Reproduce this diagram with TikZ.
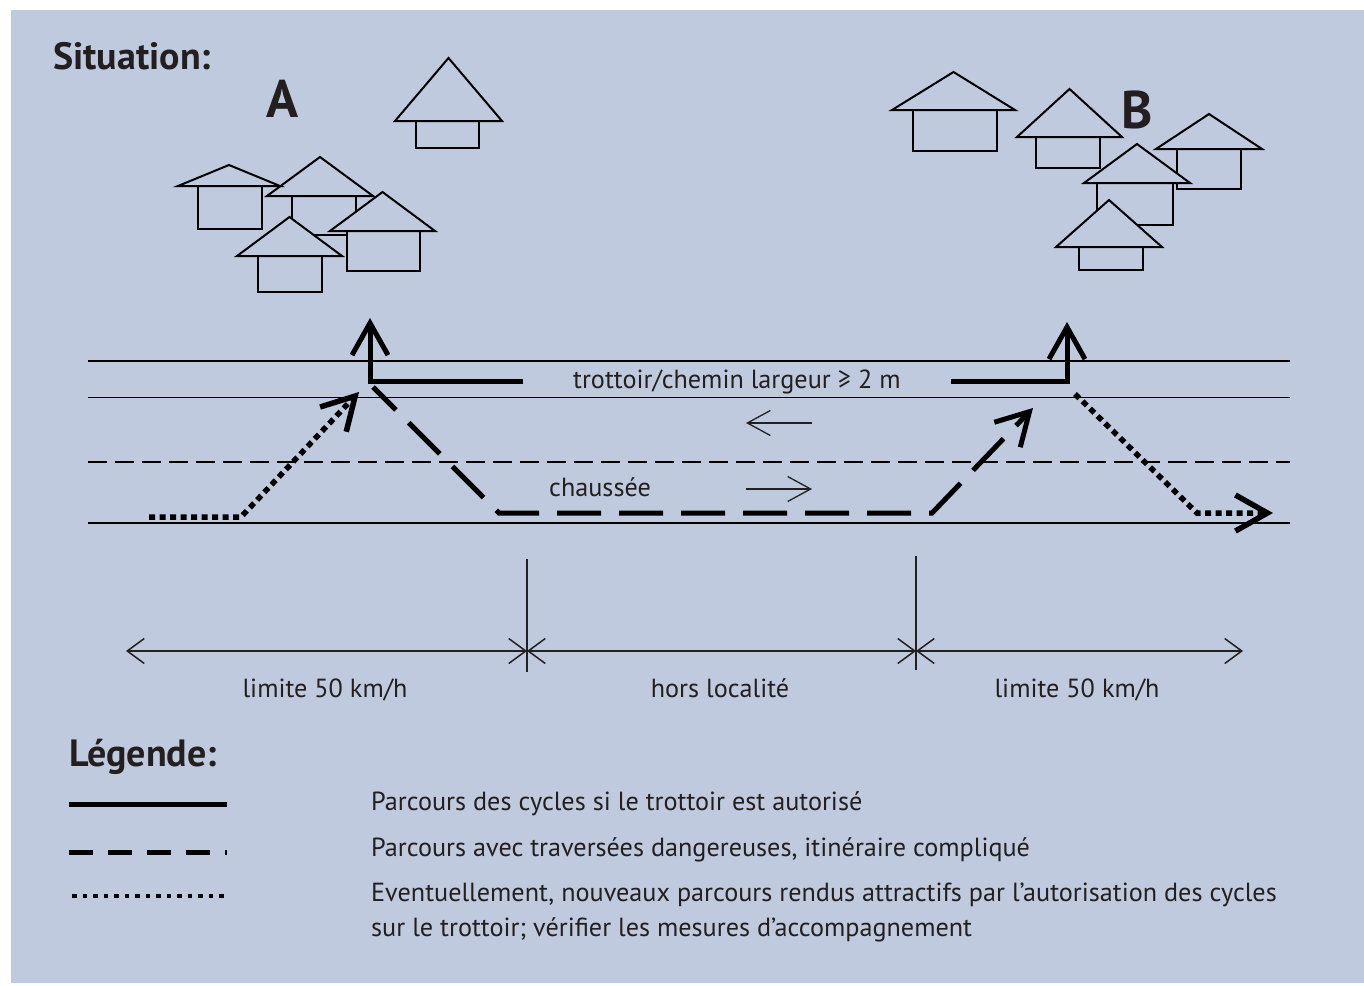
\documentclass[tikz,border=0pt]{standalone}
\usepackage{fontspec}
\setmainfont{PT Sans}
\usepackage{tikz}
\usetikzlibrary{positioning}
\usetikzlibrary{arrows.meta}
\definecolor{panelblue}{RGB}{192,202,222}
\definecolor{inkgrey}{RGB}{35,31,32}
\tikzset{
    road situation/.style={
            x=1pt,y=-1pt,line join=miter,
            road/.style={line width=1.9pt,black},
            lane/.style={road,dash pattern=on 19pt off 8pt},
            house/.style={line width=2pt,black,fill=panelblue},
            bike/.style={line width=5pt,black},
            danger/.style={bike,dash pattern=on 44pt off 18pt,dash phase=11.6pt},
            option/.style={bike,line width=5.5pt,dash pattern=on 6pt off 4.5pt},
            bigtip/.style={-{Straight Barb[length=32pt,width=36pt]}},
            flow/.style={line width=1.3pt,inkgrey,-{Straight Barb[length=23pt,width=25pt]}},
            dimension/.style={line width=1.5pt,inkgrey,{Straight Barb[length=17pt,width=25pt]}-{Straight Barb[length=17pt,width=25pt]}},
            lbl/.style={inner sep=0pt,text=inkgrey,font=\fontsize{26.2}{35}\selectfont},
            heading/.style={inner sep=0pt,text=inkgrey,font=\fontsize{38}{40}\selectfont\bfseries},
            village/.style={inner sep=0pt,text=inkgrey,font=\fontsize{53}{55}\selectfont\bfseries}
        }
    }
% roof left, roof right, roof base, apex, body left, body right, body bottom
\newcommand{\house}[7]{%
    \draw[house] (#5,#3) rectangle (#6,#7);
    \draw[house] (#1,#3) -- ({(#1+#2)/2},#4) -- (#2,#3) -- cycle;
}

\begin{document}
\begin{tikzpicture}[road situation]
    \useasboundingbox (0,0) rectangle (1364,985);
    \fill[white] (0,0) rectangle (1364,985);
    \fill[panelblue] (11,10) rectangle (1364,983);

    \node[heading, anchor=base west] (situation) at (53,69) {Situation:};
    \node[village, anchor=base west] (A) at (266,117) {A};
    \node[village, anchor=base west] (B) at (1121,128) {B};

    % village A
    \house{395}{502}{121}{58}{416}{479}{148}
    \house{267}{373}{196}{157}{292}{356}{235}
    \house{178}{280}{186}{165}{198}{262}{229}
    \house{330}{435}{231}{192}{347}{420}{271}
    \house{237}{342}{256}{217}{258}{322}{292}
    % village B
    \house{892}{1015}{110}{72}{913}{997}{151}
    \house{1017}{1122}{137}{89}{1036}{1100}{168}
    \house{1156}{1262}{149}{114}{1177}{1241}{189}
    \house{1084}{1190}{183}{144}{1097}{1173}{225}
    \house{1056}{1162}{247}{200}{1079}{1143}{270}

    % road
    \draw[road] (88,361) -- (1290,361);
    \draw[road] (88,397.5) -- (1290,397.5);
    \draw[lane] (88,462) -- (1290,462);
    \draw[road] (88,523) -- (1290,523);
    \node[lbl, anchor=base west] (trottoir) at (573,388) {trottoir/chemin largeur ≥ 2 m};
    \node[lbl, anchor=base west] (chaussee) at (549,496) {chaussée};
    \draw[flow] (812,423) -- (746,423);
    \draw[flow] (746,489) -- (812,489);

    % routes
    \draw[bike, bigtip] (523,381) -- (370,381) -- (370,318);
    \draw[bike, bigtip] (951,381) -- (1067,381) -- (1067,322);
    \draw[danger, bigtip] (373,387) -- (499,513) -- (932,513) -- (1033,408);
    \draw[option, bigtip] (149,517) -- (241,517) -- (359,392);
    \draw[option, bigtip] (1075,394) -- (1197,513) -- (1273,513);

    % zones
    \coordinate (dimL) at (126,651);
    \coordinate (tickA) at (527,651);
    \coordinate (tickB) at (916,651);
    \coordinate (dimR) at (1243,651);
    \draw[line width=1.5pt,inkgrey] (527,559) -- (527,672);
    \draw[line width=1.5pt,inkgrey] (916,556) -- (916,670);
    \draw[dimension] (dimL) -- (tickA);
    \draw[dimension] (tickA) -- (tickB);
    \draw[dimension] (tickB) -- (dimR);
    \node[lbl, anchor=base] (limA) at (325,697) {limite 50 km/h};
    \node[lbl, anchor=base] (hors) at (720,697) {hors localité};
    \node[lbl, anchor=base] (limB) at (1077,697) {limite 50 km/h};

    % legend
    \node[heading, anchor=base west] (legende) at (69,766) {Légende:};
    \draw[bike] (69,804) -- (227,804);
    \draw[danger, dash pattern=on 24pt off 15pt, dash phase=0pt] (69,852) -- (227,852);
    \draw[option, line width=4.5pt, dash pattern=on 4.5pt off 6pt] (72,896) -- (227,896);
    \node[lbl, anchor=base west] (leg1) at (371,810) {Parcours des cycles si le trottoir est autorisé};
    \node[lbl, anchor=base west] (leg2) at (371,856) {Parcours avec traversées dangereuses, itinéraire compliqué};
    \node[lbl, anchor=base west, align=left] (leg3) at (371,936) {Eventuellement, nouveaux parcours rendus attractifs par l’autorisation des cycles\\sur le trottoir; vérifier les mesures d’accompagnement};
\end{tikzpicture}
\end{document}
